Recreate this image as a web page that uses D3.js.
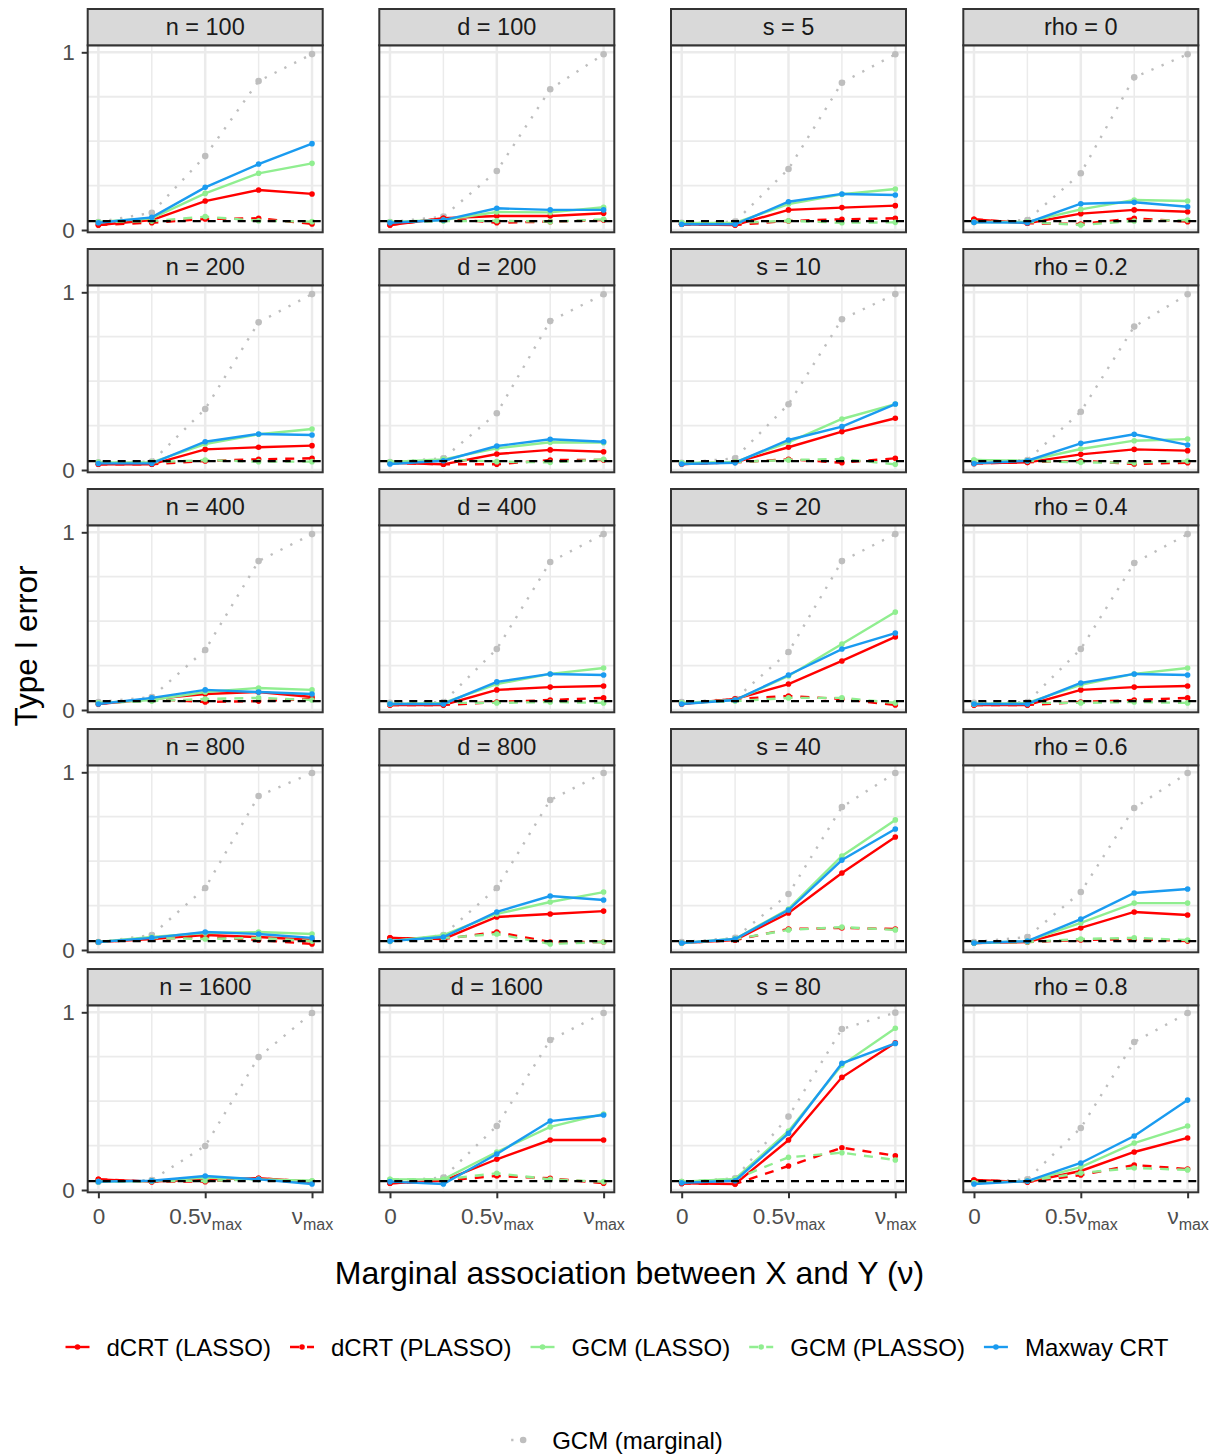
<!DOCTYPE html>
<html>
<head>
<meta charset="utf-8">
<script src="https://cdn.jsdelivr.net/npm/d3@7"></script>
<style>
  html, body { margin: 0; padding: 0; background: #ffffff; }
  svg { display: block; font-family: "Liberation Sans", Arial, Helvetica, sans-serif; }
</style>
</head>
<body>
<svg id="chart" width="1221" height="1456"></svg>
<script>
// ---------------- DATA ----------------
const xValues = [0, 0.25, 0.5, 0.75, 1];
const facetLabels = [
  "n = 100", "d = 100", "s = 5", "rho = 0",
  "n = 200", "d = 200", "s = 10", "rho = 0.2",
  "n = 400", "d = 400", "s = 20", "rho = 0.4",
  "n = 800", "d = 800", "s = 40", "rho = 0.6",
  "n = 1600", "d = 1600", "s = 80", "rho = 0.8"
];
const seriesNames = ["dCRT (LASSO)", "dCRT (PLASSO)", "GCM (LASSO)", "GCM (PLASSO)", "Maxway CRT", "GCM (marginal)"];
const nominalLevel = 0.05;

const dcrtLasso = [
  [0.028, 0.056, 0.163, 0.225, 0.203],
  [0.028, 0.066, 0.079, 0.079, 0.094],
  [0.032, 0.028, 0.113, 0.126, 0.137],
  [0.060, 0.038, 0.092, 0.113, 0.103],
  [0.032, 0.032, 0.116, 0.128, 0.137],
  [0.041, 0.032, 0.090, 0.113, 0.103],
  [0.034, 0.043, 0.128, 0.216, 0.291],
  [0.037, 0.043, 0.088, 0.116, 0.109],
  [0.034, 0.062, 0.090, 0.101, 0.073],
  [0.028, 0.028, 0.113, 0.129, 0.135],
  [0.034, 0.062, 0.146, 0.276, 0.411],
  [0.028, 0.028, 0.113, 0.129, 0.135],
  [0.045, 0.062, 0.084, 0.073, 0.056],
  [0.068, 0.062, 0.186, 0.203, 0.219],
  [0.039, 0.056, 0.208, 0.433, 0.636],
  [0.039, 0.045, 0.124, 0.214, 0.197],
  [0.060, 0.047, 0.060, 0.066, 0.047],
  [0.038, 0.052, 0.173, 0.281, 0.281],
  [0.037, 0.034, 0.281, 0.634, 0.829],
  [0.056, 0.045, 0.107, 0.214, 0.293]
];
const dcrtPlasso = [
  [0.028, 0.041, 0.062, 0.066, 0.034],
  [0.028, 0.066, 0.041, 0.047, 0.056],
  [0.032, 0.028, 0.051, 0.060, 0.066],
  [0.060, 0.038, 0.034, 0.066, 0.047],
  [0.032, 0.032, 0.051, 0.060, 0.066],
  [0.041, 0.032, 0.032, 0.056, 0.056],
  [0.034, 0.043, 0.060, 0.041, 0.066],
  [0.037, 0.043, 0.052, 0.034, 0.041],
  [0.034, 0.062, 0.045, 0.050, 0.062],
  [0.028, 0.028, 0.045, 0.056, 0.068],
  [0.034, 0.062, 0.079, 0.062, 0.028],
  [0.028, 0.028, 0.045, 0.056, 0.068],
  [0.045, 0.062, 0.073, 0.056, 0.034],
  [0.068, 0.062, 0.101, 0.045, 0.045],
  [0.039, 0.056, 0.118, 0.124, 0.118],
  [0.039, 0.045, 0.056, 0.062, 0.050],
  [0.060, 0.047, 0.047, 0.066, 0.047],
  [0.038, 0.052, 0.079, 0.066, 0.038],
  [0.037, 0.034, 0.135, 0.238, 0.193],
  [0.056, 0.045, 0.084, 0.141, 0.118]
];
const gcmLasso = [
  [0.045, 0.066, 0.206, 0.319, 0.375],
  [0.045, 0.056, 0.101, 0.099, 0.128],
  [0.040, 0.040, 0.146, 0.201, 0.231],
  [0.045, 0.045, 0.116, 0.169, 0.163],
  [0.043, 0.043, 0.146, 0.201, 0.231],
  [0.045, 0.060, 0.122, 0.156, 0.154],
  [0.040, 0.045, 0.156, 0.287, 0.371],
  [0.056, 0.052, 0.118, 0.165, 0.174],
  [0.040, 0.056, 0.101, 0.124, 0.113],
  [0.034, 0.040, 0.146, 0.203, 0.236],
  [0.040, 0.056, 0.191, 0.371, 0.551],
  [0.034, 0.040, 0.141, 0.203, 0.236],
  [0.045, 0.073, 0.096, 0.101, 0.090],
  [0.050, 0.084, 0.203, 0.270, 0.326],
  [0.039, 0.062, 0.231, 0.529, 0.732],
  [0.039, 0.050, 0.152, 0.264, 0.264],
  [0.047, 0.050, 0.070, 0.060, 0.052],
  [0.060, 0.060, 0.214, 0.355, 0.428],
  [0.047, 0.062, 0.332, 0.703, 0.910],
  [0.040, 0.050, 0.129, 0.264, 0.360]
];
const gcmPlasso = [
  [0.045, 0.050, 0.075, 0.052, 0.047],
  [0.045, 0.050, 0.052, 0.047, 0.060],
  [0.040, 0.040, 0.052, 0.041, 0.043],
  [0.045, 0.045, 0.028, 0.051, 0.056],
  [0.043, 0.043, 0.056, 0.047, 0.047],
  [0.045, 0.060, 0.047, 0.043, 0.060],
  [0.040, 0.045, 0.056, 0.062, 0.032],
  [0.056, 0.052, 0.043, 0.041, 0.051],
  [0.040, 0.050, 0.062, 0.068, 0.056],
  [0.034, 0.040, 0.040, 0.045, 0.040],
  [0.040, 0.050, 0.068, 0.068, 0.040],
  [0.034, 0.040, 0.040, 0.045, 0.040],
  [0.045, 0.068, 0.062, 0.068, 0.050],
  [0.050, 0.068, 0.090, 0.034, 0.045],
  [0.039, 0.062, 0.113, 0.129, 0.113],
  [0.039, 0.045, 0.062, 0.068, 0.056],
  [0.047, 0.050, 0.052, 0.060, 0.050],
  [0.060, 0.060, 0.094, 0.060, 0.047],
  [0.047, 0.062, 0.184, 0.210, 0.169],
  [0.040, 0.050, 0.096, 0.124, 0.113]
];
const maxwayCrt = [
  [0.041, 0.071, 0.240, 0.371, 0.486],
  [0.041, 0.056, 0.122, 0.113, 0.113],
  [0.032, 0.032, 0.159, 0.203, 0.197],
  [0.043, 0.041, 0.148, 0.156, 0.131],
  [0.037, 0.037, 0.159, 0.203, 0.197],
  [0.034, 0.052, 0.135, 0.173, 0.159],
  [0.034, 0.041, 0.169, 0.244, 0.371],
  [0.037, 0.052, 0.150, 0.201, 0.141],
  [0.034, 0.068, 0.113, 0.101, 0.090],
  [0.034, 0.034, 0.158, 0.203, 0.197],
  [0.034, 0.056, 0.197, 0.343, 0.433],
  [0.034, 0.034, 0.152, 0.203, 0.197],
  [0.045, 0.068, 0.101, 0.090, 0.068],
  [0.050, 0.073, 0.214, 0.304, 0.281],
  [0.039, 0.062, 0.225, 0.506, 0.681],
  [0.039, 0.050, 0.174, 0.321, 0.343],
  [0.047, 0.052, 0.079, 0.060, 0.034],
  [0.047, 0.034, 0.203, 0.388, 0.422],
  [0.041, 0.052, 0.319, 0.713, 0.825],
  [0.034, 0.050, 0.152, 0.304, 0.506]
];
const gcmMarginal = [
  [0.045, 0.097, 0.416, 0.838, 0.990],
  [0.045, 0.075, 0.332, 0.792, 0.989],
  [0.040, 0.047, 0.343, 0.829, 0.989],
  [0.045, 0.056, 0.319, 0.859, 0.989],
  [0.043, 0.047, 0.343, 0.831, 0.990],
  [0.045, 0.066, 0.319, 0.838, 0.989],
  [0.040, 0.066, 0.370, 0.848, 0.990],
  [0.045, 0.056, 0.328, 0.807, 0.989],
  [0.045, 0.073, 0.338, 0.838, 0.990],
  [0.040, 0.045, 0.343, 0.833, 0.990],
  [0.045, 0.062, 0.326, 0.838, 0.990],
  [0.040, 0.045, 0.343, 0.827, 0.990],
  [0.045, 0.084, 0.349, 0.867, 0.996],
  [0.050, 0.084, 0.349, 0.844, 0.996],
  [0.045, 0.068, 0.315, 0.805, 0.996],
  [0.045, 0.073, 0.326, 0.799, 0.996],
  [0.047, 0.056, 0.248, 0.748, 0.996],
  [0.050, 0.070, 0.360, 0.844, 0.996],
  [0.045, 0.066, 0.413, 0.906, 0.998],
  [0.045, 0.060, 0.349, 0.833, 0.996]
];

// ---------------- STYLE ----------------
const seriesData = [dcrtLasso, dcrtPlasso, gcmLasso, gcmPlasso, maxwayCrt, gcmMarginal];
const seriesColor = ["#FF0000", "#FF0000", "#90EE90", "#90EE90", "#1A9BF0", "#BEBEBE"];
const seriesDash  = [null, "9 8", null, "9 8", null, "2.3 8.7"];
const seriesPtR   = [2.8, 2.8, 2.8, 2.8, 2.8, 3.3];
const drawOrder = [5, 0, 1, 2, 3, 4];

const svg = d3.select("#chart");
const nCols = 4, nRows = 5;
const panelLefts = [87.7, 379.3, 671, 963.3];
const panelW = 235;
const rowStep = 240;
const stripTop0 = 9, stripH = 36.3, panelH = 187;

const x = d3.scaleLinear().domain([-0.05, 1.05]).range([0, panelW]);
const y = d3.scaleLinear().domain([0, 1]).range([184.7, 7]);

const lineGen = d3.line().x((d, i) => x(xValues[i])).y(d => y(d));
const fontFam = "Liberation Sans, Arial, sans-serif";

facetLabels.forEach((lab, f) => {
  const r = Math.floor(f / nCols), c = f % nCols;
  const px = panelLefts[c];
  const stripTop = stripTop0 + r * rowStep;
  const pTop = stripTop + stripH;
  const g = svg.append("g").attr("transform", `translate(${px},${pTop})`);

  g.append("rect").attr("width", panelW).attr("height", panelH).attr("fill", "#ffffff");

  const minorX = [0.25, 0.75], majorX = [0, 0.5, 1];
  const minorY = [0.25, 0.5, 0.75], majorY = [0, 1];
  g.selectAll(".gxm").data(minorX).join("line")
    .attr("x1", d => x(d)).attr("x2", d => x(d)).attr("y1", 0).attr("y2", panelH)
    .attr("stroke", "#ebebeb").attr("stroke-width", 1.5);
  g.selectAll(".gym").data(minorY).join("line")
    .attr("y1", d => y(d)).attr("y2", d => y(d)).attr("x1", 0).attr("x2", panelW)
    .attr("stroke", "#ebebeb").attr("stroke-width", 1.8);
  g.selectAll(".gxM").data(majorX).join("line")
    .attr("x1", d => x(d)).attr("x2", d => x(d)).attr("y1", 0).attr("y2", panelH)
    .attr("stroke", "#ebebeb").attr("stroke-width", 2.5);
  g.selectAll(".gyM").data(majorY).join("line")
    .attr("y1", d => y(d)).attr("y2", d => y(d)).attr("x1", 0).attr("x2", panelW)
    .attr("stroke", "#ebebeb").attr("stroke-width", 2.5);

  const layer = g.append("g");
  drawOrder.forEach(s => {
    const vals = seriesData[s][f];
    const path = layer.append("path").datum(vals)
      .attr("d", lineGen)
      .attr("fill", "none")
      .attr("stroke", seriesColor[s])
      .attr("stroke-width", 2.4);
    if (seriesDash[s]) path.attr("stroke-dasharray", seriesDash[s]);
    layer.selectAll(null).data(vals).join("circle")
      .attr("cx", (d, i) => x(xValues[i]))
      .attr("cy", d => y(d))
      .attr("r", seriesPtR[s])
      .attr("fill", seriesColor[s]);
  });

  g.append("line")
    .attr("x1", 0).attr("x2", panelW)
    .attr("y1", y(nominalLevel)).attr("y2", y(nominalLevel))
    .attr("stroke", "#000").attr("stroke-width", 2.2)
    .attr("stroke-dasharray", "8 7");

  g.append("rect").attr("width", panelW).attr("height", panelH)
    .attr("fill", "none").attr("stroke", "#333333").attr("stroke-width", 2);

  svg.append("rect").attr("x", px).attr("y", stripTop).attr("width", panelW).attr("height", stripH)
    .attr("fill", "#d9d9d9").attr("stroke", "#333333").attr("stroke-width", 2);
  svg.append("text").attr("x", px + panelW / 2).attr("y", stripTop + stripH / 2 + 8.3)
    .attr("text-anchor", "middle").attr("font-size", 23.5).attr("fill", "#1a1a1a").text(lab);

  if (c === 0) {
    const ax = g.append("g").call(d3.axisLeft(y).tickValues([0, 1]).tickFormat(d3.format("d")).tickSize(6).tickPadding(7));
    ax.select(".domain").remove();
    ax.selectAll(".tick line").attr("stroke", "#333333").attr("stroke-width", 2);
    ax.selectAll(".tick text").attr("font-size", 22.5).attr("fill", "#4d4d4d")
      .attr("font-family", fontFam);
  }
  if (r === nRows - 1) {
    const ax = g.append("g").attr("transform", `translate(0,${panelH})`)
      .call(d3.axisBottom(x).tickValues([0, 0.5, 1]).tickFormat(() => "").tickSize(6).tickPadding(4));
    ax.select(".domain").remove();
    ax.selectAll(".tick line").attr("stroke", "#333333").attr("stroke-width", 2);
    ax.selectAll(".tick text").each(function (d) {
      const t = d3.select(this).attr("font-size", 22.5).attr("fill", "#4d4d4d")
        .attr("font-family", fontFam).attr("dy", "0.95em");
      if (d === 0) { t.text("0"); }
      else {
        if (d === 0.5) t.append("tspan").text("0.5ν");
        else t.append("tspan").text("ν");
        t.append("tspan").attr("font-size", 16).attr("dy", 6).text("max");
      }
    });
  }
});

svg.append("text").attr("x", 629.5).attr("y", 1284).attr("text-anchor", "middle")
  .attr("font-size", 32).attr("fill", "#000").text("Marginal association between X and Y (ν)");
svg.append("text").attr("transform", "translate(37,646) rotate(-90)").attr("text-anchor", "middle")
  .attr("font-size", 31.5).attr("fill", "#000").text("Type I error");

const legendRows = [[0, 1, 2, 3, 4], [5]];
const legendY = [1347, 1440];
const keyW = 24, keyGap = 17, itemGap = 19, legendCenter = 617;
legendRows.forEach((items, ri) => {
  const lg = svg.append("g");
  let cx = 0;
  items.forEach((s) => {
    const it = lg.append("g").attr("transform", `translate(${cx},0)`);
    const ln = it.append("line").attr("x1", 0).attr("x2", keyW).attr("y1", 0).attr("y2", 0)
      .attr("stroke", seriesColor[s]).attr("stroke-width", 2.4);
    if (seriesDash[s]) ln.attr("stroke-dasharray", s === 5 ? "2.3 9.7" : "9 8");
    it.append("circle").attr("cx", keyW / 2).attr("cy", 0).attr("r", seriesPtR[s]).attr("fill", seriesColor[s]);
    const tx = it.append("text").attr("x", keyW + keyGap).attr("y", 8.6).attr("font-size", 24)
      .attr("fill", "#000").text(seriesNames[s]);
    const w = tx.node().getComputedTextLength();
    cx += keyW + keyGap + w + itemGap;
  });
  const total = cx - itemGap;
  lg.attr("transform", `translate(${legendCenter - total / 2},${legendY[ri]})`);
});
</script>
</body>
</html>
